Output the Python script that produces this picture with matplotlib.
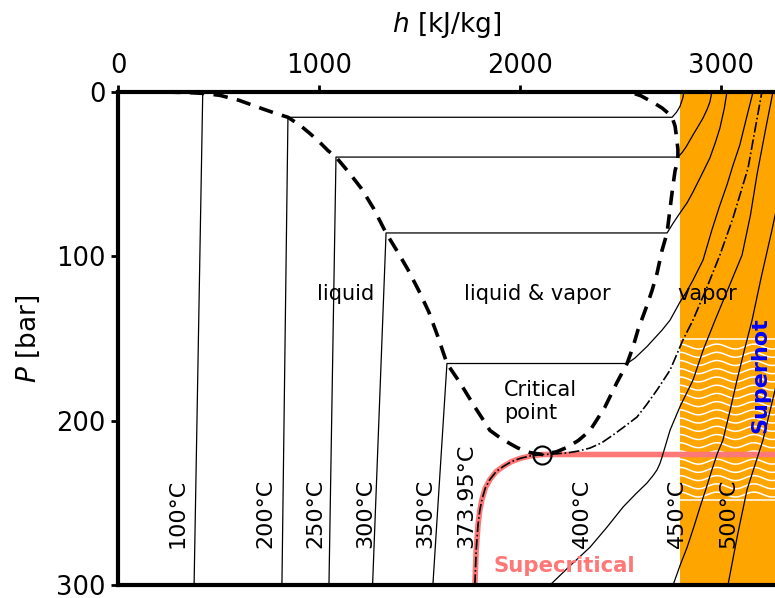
import numpy as np
import matplotlib.pyplot as plt

# saturation dome (h in kJ/kg, P in bar)
liq_h = [0, 190, 340, 420, 505, 600, 715, 790, 844, 905, 954, 1000, 1043, 1083, 1150, 1210, 1270,
         1332, 1390, 1440, 1495, 1545, 1590, 1635, 1700, 1740, 1775, 1815, 1849, 1900, 1948, 1985,
         2013, 2050, 2110]
liq_p = [0, 0.1, 0.5, 1.0, 2.2, 5.2, 10.3, 13.5, 15.55, 20.5, 25.5, 30.5, 35.8, 39.76, 49.5, 59, 71,
         85.9, 97.5, 108, 121, 134, 149, 165.3, 177, 185, 192, 199.5, 206, 210.5, 214, 216.5,
         218, 219.5, 220.64]
vap_h = [2501, 2560, 2600, 2656, 2705, 2735, 2755, 2770, 2779, 2784, 2784, 2779, 2770, 2763, 2755,
         2743, 2730, 2705, 2680, 2655, 2630, 2585, 2560, 2531, 2480, 2420, 2347, 2290, 2238, 2180,
         2110]
vap_p = [0, 0.8, 2.5, 6.2, 9.9, 13, 15.55, 21, 29.5, 35, 39.76, 44, 48, 54, 61.3,
         73, 85.9, 96.5, 110.5, 121, 130, 145, 155.5, 165.3, 177, 192, 206, 212, 216, 219,
         220.64]

h_crit, p_crit = 2110, 220.64

# isotherms
t100_h = [377, 420]
t100_p = [300, 1.0]
t200_h = [814, 844, 2755, 2777, 2794, 2808, 2814]
t200_p = [300, 15.55, 15.55, 12.5, 9.0, 4.0, 0]
t250_h = [1048, 1083, 2784, 2805, 2825, 2859, 2885, 2909, 2930, 2943, 2953]
t250_p = [300, 39.76, 39.76, 37, 33.5, 26.3, 21, 16, 10.5, 6.3, 0]
t300_h = [1265, 1332, 2730, 2760, 2794, 2830, 2859, 2900, 2943, 2970, 2993, 3015, 3028]
t300_p = [300, 85.9, 85.9, 80, 73.8, 67.5, 61, 51, 40.3, 31, 22.1, 10, 0]
t350_h = [1565, 1635, 2531, 2570, 2600, 2630, 2660, 2705, 2745, 2794, 2830, 2859, 2909, 2953,
          2990, 3028, 3060, 3092, 3125, 3158]
t350_p = [300, 165.3, 165.3, 162, 158.5, 155, 151, 145, 138.9, 128, 121, 114.6, 102.4, 84.1,
          70, 56.7, 44, 32.4, 16, 0]
tcr_h = [1774, 1777, 1780, 1784, 1790, 1798, 1809, 1826, 1849, 1880, 1914, 1955, 1999, 2050,
         2110, 2170, 2233, 2290, 2347, 2405, 2461, 2520, 2580, 2630, 2680, 2745, 2809, 2859,
         2929, 2993, 3058, 3133, 3202]
tcr_p = [300, 290, 280, 272.6, 263, 255, 248, 241, 235.8, 231, 228, 225, 223, 221.5,
         220.64, 220.3, 219.7, 218.5, 216.7, 213.5, 208.8, 203.5, 197.9, 190, 181.4, 169.3, 151,
         138.9, 118.8, 99.3, 76.8, 46.4, 0]
t400_h = [2148, 2250, 2347, 2430, 2511, 2575, 2630, 2660, 2680, 2695, 2705, 2725, 2745, 2794,
          2859, 2910, 2969, 3040, 3103, 3145, 3178, 3220, 3257]
t400_p = [300, 288, 277, 265, 252.6, 244.5, 238, 233.5, 230, 226, 222.2, 214, 205.8, 191.6,
          175.4, 157, 138.9, 118, 99.4, 75, 50, 23, 0]
t450_h = [2760, 2795, 2830, 2865, 2894, 2925, 2953, 2980, 3008, 3045, 3078, 3115, 3153, 3200,
          3252, 3320]
t450_p = [300, 288, 277, 264, 252.6, 241, 230, 220, 211.9, 193, 175.4, 157, 138.9, 112,
          84.1, 45]
t500_h = [3033, 3080, 3128, 3170, 3207, 3267, 3340]
t500_p = [300, 270, 242, 226, 211.9, 181.5, 140]

# label positions
temp_labels = ['100°C', '200°C', '250°C', '300°C', '350°C', '373.95°C', '400°C', '450°C', '500°C']
temp_label_h = [293, 730, 980, 1227, 1526, 1730, 2307, 2780, 3033]

h_max = 3267
h_superheat = 2795

fig = plt.figure(figsize=(7.75, 5.98), dpi=100)
ax = fig.add_axes([118.3 / 775, 1 - 585 / 598, 1 - 118.3 / 775, (585 - 91.7) / 598])

# superheated region
ax.axvspan(h_superheat, h_max + 200, color='orange', lw=0, zorder=0)
hh = np.linspace(h_superheat, h_max, 400)
for p0 in np.arange(155, 250, 5):
    ax.plot(hh, p0 - 1.5 * np.cos(2 * np.pi * (hh - 2978) / 184), color='white', lw=1.1, zorder=1)
ax.hlines([150.6, 248.4], h_superheat, h_max, color='white', lw=1.1, zorder=1)

# supercritical boundary
pink = '#ff7878'
crit_idx = tcr_h.index(h_crit)
ax.plot(tcr_h[:crit_idx + 1] + [h_max + 100], tcr_p[:crit_idx + 1] + [p_crit],
        color=pink, lw=4, zorder=2, solid_joinstyle='round')

for th, tp in [(t100_h, t100_p), (t200_h, t200_p), (t250_h, t250_p), (t300_h, t300_p),
               (t350_h, t350_p), (t400_h, t400_p), (t450_h, t450_p), (t500_h, t500_p)]:
    ax.plot(th, tp, color='black', lw=0.9, zorder=3)
ax.plot(tcr_h, tcr_p, color='black', lw=1.2, ls='-.', zorder=4)

# dome
ax.plot(liq_h + vap_h[::-1], liq_p + vap_p[::-1], color='black', lw=2.6,
        ls=(0, (4, 2.6)), zorder=4)
ax.plot([h_crit], [p_crit], 'o', mfc='none', mec='black', ms=13, mew=1.5, zorder=5)

# texts
for lab, h in zip(temp_labels, temp_label_h):
    ax.text(h, 277.5, lab, rotation=90, ha='center', va='bottom', fontsize=16, zorder=6)
ax.text(1133, 123, 'liquid', ha='center', va='center', fontsize=15)
ax.text(2083, 123, 'liquid & vapor', ha='center', va='center', fontsize=15)
ax.text(2929, 123, 'vapor', ha='center', va='center', fontsize=15)
ax.text(1918, 188.5, 'Critical\npoint', ha='left', va='center', fontsize=15)
ax.text(2217, 292, 'Supecritical', ha='center', va='baseline', fontsize=15.3,
        fontweight='bold', color=pink, zorder=6)
ax.text(3192, 172.3, 'Superhot', rotation=90, ha='center', va='center', fontsize=16,
        fontweight='bold', color='blue', zorder=6)

ax.set_xlim(0, h_max)
ax.set_ylim(300, 0)
ax.set_xticks([0, 1000, 2000, 3000])
ax.set_yticks([0, 100, 200, 300])
ax.xaxis.tick_top()
ax.xaxis.set_label_position('top')
ax.set_xlabel('$h$ [kJ/kg]', fontsize=19, labelpad=15)
ax.set_ylabel('$P$ [bar]', fontsize=19, labelpad=10)
ax.spines['right'].set_visible(False)
for s in ['top', 'left', 'bottom']:
    ax.spines[s].set_linewidth(3)
ax.tick_params(width=2, length=5, labelsize=18.5, pad=4)

fig.savefig('out.png', dpi=100)
